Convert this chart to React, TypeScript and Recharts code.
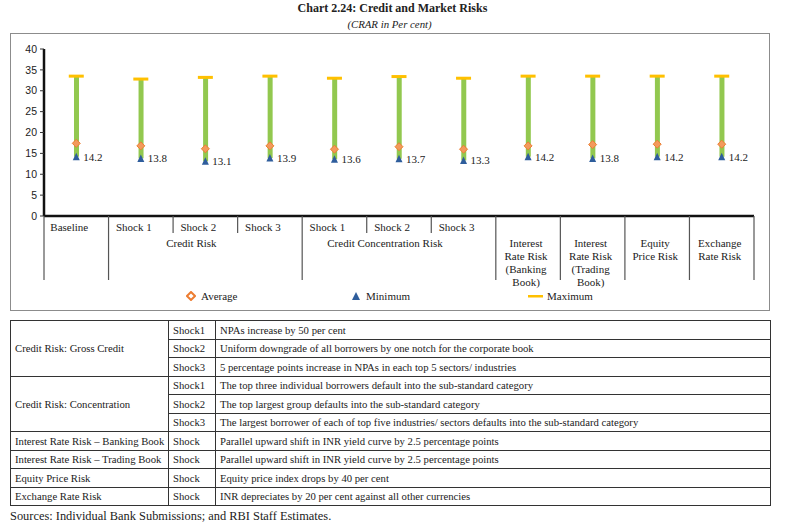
import React from 'react';
import {
    ComposedChart,
    Bar,
    Line,
    XAxis,
    YAxis,
    Legend,
    LabelList,
} from 'recharts';

// categories along the x axis and the group each belongs to
const categories = ['Baseline', 'Shock 1', 'Shock 2', 'Shock 3', 'Shock 1', 'Shock 2', 'Shock 3', '', '', '', ''];
const groups = ['', 'Credit Risk', 'Credit Risk', 'Credit Risk', 'Credit Concentration Risk', 'Credit Concentration Risk', 'Credit Concentration Risk', 'irrb', 'irrt', 'eq', 'fx'];
// multi-line labels for the market risk columns (second row onwards)
const lowerLabels: string[][] = [
    [], [], [], [], [], [], [],
    ['Interest', 'Rate Risk', '(Banking', 'Book)'],
    ['Interest', 'Rate Risk', '(Trading', 'Book)'],
    ['Equity', 'Price Risk'],
    ['Exchange', 'Rate Risk'],
];

// CRAR values (per cent)
const minimum = [14.2, 13.8, 13.1, 13.9, 13.6, 13.7, 13.3, 14.2, 13.8, 14.2, 14.2];
const average = [17.4, 16.8, 16.1, 16.8, 16.0, 16.6, 16.0, 16.8, 17.1, 17.2, 17.2];
const maximum = [33.5, 32.8, 33.2, 33.5, 33.0, 33.4, 33.0, 33.5, 33.5, 33.5, 33.5];
const yTicks = [0, 5, 10, 15, 20, 25, 30, 35, 40];

// table beneath the chart
const tableRisk = ['Credit Risk: Gross Credit', 'Credit Risk: Concentration', 'Interest Rate Risk \u2013 Banking Book', 'Interest Rate Risk \u2013 Trading Book', 'Equity Price Risk', 'Exchange Rate Risk'];
const tableShocks = [['Shock1', 'Shock2', 'Shock3'], ['Shock1', 'Shock2', 'Shock3'], ['Shock'], ['Shock'], ['Shock'], ['Shock']];
const tableDescriptions = [
    ['NPAs increase by 50 per cent', 'Uniform downgrade of all borrowers by one notch for the corporate book', '5 percentage points increase in NPAs in each top 5 sectors/ industries'],
    ['The top three individual borrowers default into the sub-standard category', 'The top largest group defaults into the sub-standard category', 'The largest borrower of each of top five industries/ sectors defaults into the sub-standard category'],
    ['Parallel upward shift in INR yield curve by 2.5 percentage points'],
    ['Parallel upward shift in INR yield curve by 2.5 percentage points'],
    ['Equity price index drops by 40 per cent'],
    ['INR depreciates by 20 per cent against all other currencies'],
];

const data = categories.map((c, i) => ({
    key: i,
    range: [minimum[i], maximum[i]],
    min: minimum[i],
    avg: average[i],
    max: maximum[i],
}));

const SERIF = '"Liberation Serif", "DejaVu Serif", serif';
const GREEN = '#92c84f';
const ORANGE = '#ed7d31';
const BLUE = '#2e5d9c';
const GOLD = '#ffc000';

const CHART_W = 759;
const CHART_H = 276;
const MARGIN = { top: 15, right: 15, bottom: 3, left: 4 };
const Y_AXIS_W = 30;
const PLOT_W = CHART_W - MARGIN.left - MARGIN.right - Y_AXIS_W;
const BAND = PLOT_W / categories.length;

const CategoryTick = (props: any) => {
    const { x, y, payload } = props;
    const i = payload.value as number;
    const half = BAND / 2;
    const groupStart = i === 0 || groups[i] !== groups[i - 1];
    const isMiddle = groups[i] !== '' && groups[i] === groups[i - 1] && groups[i] === groups[i + 1];
    const last = i === categories.length - 1;
    return (
        <g fontFamily={SERIF} fontSize={11} fill="#222">
            <line x1={x - half} x2={x - half} y1={y} y2={y + (groupStart ? 64 : 17)} stroke="#555" strokeWidth={1.2} />
            {last && <line x1={x + half} x2={x + half} y1={y} y2={y + 64} stroke="#555" strokeWidth={1.2} />}
            <text x={x - 7} y={y + 15} textAnchor="middle">{categories[i]}</text>
            {lowerLabels[i].map((l, k) => (
                <text key={k} x={x - 2} y={y + 31 + k * 13} textAnchor="middle">{l}</text>
            ))}
            {isMiddle && <text x={x - 14} y={y + 31} textAnchor="middle">{groups[i]}</text>}
        </g>
    );
};

const MaxDash = (props: any) => {
    const { cx, cy } = props;
    if (cx == null || cy == null) return null;
    return <rect x={cx - 7.5} y={cy - 1.5} width={15} height={3} fill={GOLD} />;
};

const AvgDiamond = (props: any) => {
    const { cx, cy } = props;
    if (cx == null || cy == null) return null;
    return <path d={`M${cx},${cy - 4} L${cx + 4},${cy} L${cx},${cy + 4} L${cx - 4},${cy} Z`} fill="#f29a5c" stroke={ORANGE} strokeWidth={1} />;
};

const MinTriangle = (props: any) => {
    const { cx, cy } = props;
    if (cx == null || cy == null) return null;
    return <path d={`M${cx},${cy - 4} L${cx + 3.5},${cy + 3.5} L${cx - 3.5},${cy + 3.5} Z`} fill={BLUE} />;
};

const MinLabel = (props: any) => {
    const { x, y, value } = props;
    return (
        <text x={x + 7} y={y + 4} fontFamily={SERIF} fontSize={11} fill="#222">
            {Number(value).toFixed(1)}
        </text>
    );
};

const LegendContent = () => (
    <div style={{ position: 'relative', height: 20, fontFamily: SERIF, fontSize: 11, color: '#222' }}>
        <div style={{ position: 'absolute', left: 172, top: 3, display: 'flex', alignItems: 'center', gap: 5 }}>
            <svg width={10} height={10}><path d="M5,1 L9,5 L5,9 L1,5 Z" fill="none" stroke={ORANGE} strokeWidth={2} /></svg>
            <span>Average</span>
        </div>
        <div style={{ position: 'absolute', left: 337, top: 3, display: 'flex', alignItems: 'center', gap: 5 }}>
            <svg width={10} height={10}><path d="M5,1 L9,9 L1,9 Z" fill={BLUE} /></svg>
            <span>Minimum</span>
        </div>
        <div style={{ position: 'absolute', left: 514, top: 3, display: 'flex', alignItems: 'center', gap: 4 }}>
            <svg width={15} height={10}><rect x={0} y={4} width={15} height={2.5} fill={GOLD} /></svg>
            <span>Maximum</span>
        </div>
    </div>
);

const cell: React.CSSProperties = { border: '1px solid #333', padding: '0 4px', whiteSpace: 'nowrap', overflow: 'hidden' };

const App: React.FC = () => {
    return (
        <div style={{ position: 'absolute', left: 0, top: 0, width: 785, height: 526, background: '#fff', fontFamily: SERIF, color: '#222' }}>
            <div style={{ position: 'absolute', top: 1, width: 785, textAlign: 'center', fontSize: 12, fontWeight: 'bold', lineHeight: '14px' }}>
                Chart 2.24: Credit and Market Risks
            </div>
            <div style={{ position: 'absolute', top: 18, left: -3, width: 785, textAlign: 'center', fontSize: 10.8, fontStyle: 'italic', lineHeight: '12px' }}>
                (CRAR in Per cent)
            </div>

            {/* chart frame */}
            <div style={{ position: 'absolute', left: 10, top: 33, width: 760, height: 278, border: '1.5px solid #8c8c8c', boxSizing: 'border-box' }} />

            <div style={{ position: 'absolute', left: 10, top: 34 }}>
                <ComposedChart width={CHART_W} height={CHART_H} data={data} margin={MARGIN}>
                    <XAxis
                        dataKey="key"
                        type="category"
                        interval={0}
                        tickLine={false}
                        tickSize={0}
                        tickMargin={0}
                        height={71}
                        axisLine={{ stroke: '#111', strokeWidth: 2.5 }}
                        tick={<CategoryTick />}
                    />
                    <YAxis
                        domain={[0, 40]}
                        ticks={yTicks}
                        width={Y_AXIS_W}
                        tickSize={4}
                        tickMargin={3}
                        axisLine={{ stroke: '#111', strokeWidth: 2.5 }}
                        tickLine={{ stroke: '#333' }}
                        tick={{ fontFamily: '"Liberation Sans", sans-serif', fontSize: 10.5, fill: '#222' }}
                    />
                    <Legend verticalAlign="bottom" content={<LegendContent />} />
                    <Bar dataKey="range" barSize={5} fill={GREEN} isAnimationActive={false} />
                    <Line dataKey="max" stroke="none" dot={<MaxDash />} activeDot={false} isAnimationActive={false} />
                    <Line dataKey="avg" stroke="none" dot={<AvgDiamond />} activeDot={false} isAnimationActive={false} />
                    <Line dataKey="min" stroke="none" dot={<MinTriangle />} activeDot={false} isAnimationActive={false}>
                        <LabelList dataKey="min" content={<MinLabel />} />
                    </Line>
                </ComposedChart>
            </div>

            <table style={{ position: 'absolute', left: 10, top: 320, width: 761, borderCollapse: 'collapse', tableLayout: 'fixed', fontSize: 10.7, lineHeight: '12px' }}>
                <colgroup>
                    <col style={{ width: 158 }} />
                    <col style={{ width: 47 }} />
                    <col />
                </colgroup>
                <tbody>
                    {tableRisk.map((risk, r) =>
                        tableShocks[r].map((shock, s) => (
                            <tr key={`${r}-${s}`} style={{ height: 18.5 }}>
                                {s === 0 && (
                                    <td rowSpan={tableShocks[r].length} style={cell}>{risk}</td>
                                )}
                                <td style={cell}>{shock}</td>
                                <td style={cell}>{tableDescriptions[r][s]}</td>
                            </tr>
                        ))
                    )}
                </tbody>
            </table>

            <div style={{ position: 'absolute', left: 10, top: 509, fontSize: 12.4, lineHeight: '15px' }}>
                Sources: Individual Bank Submissions; and RBI Staff Estimates.
            </div>
        </div>
    );
};

export default App;
